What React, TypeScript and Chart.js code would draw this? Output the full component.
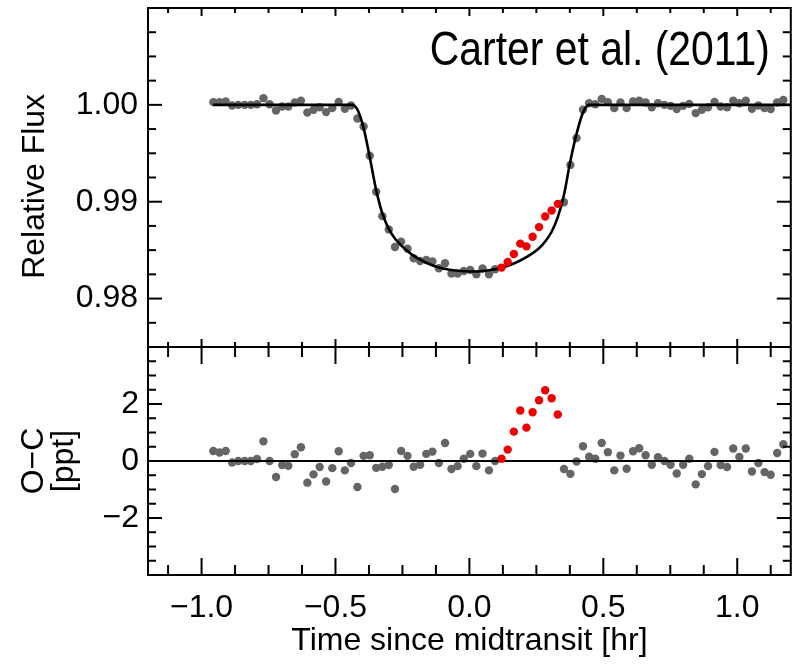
import React, { useEffect, useRef } from 'react';
import { Chart, registerables } from 'chart.js';

Chart.register(...registerables);

// ---- data ----
const TIME_HR = [
  -0.956, -0.933, -0.910, -0.886, -0.863, -0.839, -0.816, -0.793, -0.769, -0.746,
  -0.722, -0.699, -0.676, -0.652, -0.629, -0.605, -0.582, -0.559, -0.535, -0.512,
  -0.488, -0.465, -0.442, -0.418, -0.395, -0.372, -0.348, -0.325, -0.301, -0.278,
  -0.255, -0.231, -0.208, -0.184, -0.161, -0.138, -0.114, -0.091, -0.067, -0.044,
  -0.021, 0.003, 0.026, 0.049, 0.073, 0.096, 0.120, 0.143, 0.166, 0.190,
  0.213, 0.236, 0.260, 0.283, 0.307, 0.330, 0.353, 0.377, 0.400, 0.424,
  0.447, 0.470, 0.494, 0.517, 0.541, 0.564, 0.587, 0.611, 0.634, 0.658,
  0.681, 0.704, 0.728, 0.751, 0.774, 0.798, 0.821, 0.845, 0.868, 0.891,
  0.915, 0.938, 0.962, 0.985, 1.008, 1.032, 1.055, 1.079, 1.102, 1.125,
  1.149, 1.172,
];

const REL_FLUX = [
  1.00028, 1.00028, 1.00034, 0.99993, 1.00000, 1.00000, 1.00000, 1.00007, 1.00069, 1.00007,
  0.99941, 0.99983, 0.99983, 1.00024, 1.00044, 0.99921, 0.99949, 0.99976, 0.99925, 0.99966,
  1.00031, 0.99959, 0.99993, 0.99859, 0.99777, 0.99475, 0.99102, 0.98851, 0.98714, 0.98532,
  0.98587, 0.98515, 0.98416, 0.98388, 0.98398, 0.98382, 0.98313, 0.98364, 0.98258, 0.98258,
  0.98285, 0.98295, 0.98251, 0.98310, 0.98251, 0.98302, 0.98320, 0.98378, 0.98460, 0.98567,
  0.98539, 0.98639, 0.98738, 0.98848, 0.98909, 0.98978, 0.98995, 0.99380, 0.99657, 0.99949,
  1.00017, 1.00007, 1.00062, 1.00028, 0.99966, 1.00024, 0.99966, 1.00034, 1.00044, 1.00024,
  0.99976, 1.00017, 1.00000, 0.99990, 0.99956, 0.99990, 1.00010, 0.99915, 0.99949, 0.99976,
  1.00031, 0.99983, 0.99976, 1.00044, 1.00017, 1.00044, 0.99959, 0.99993, 0.99966, 0.99956,
  1.00024, 1.00051,
];

const OMC_PPT = [
  0.35, 0.30, 0.35, -0.05, 0.00, 0.00, 0.00, 0.07, 0.69, 0.00,
  -0.56, -0.14, -0.17, 0.24, 0.48, -0.76, -0.47, -0.21, -0.72, -0.25,
  0.34, -0.33, -0.07, -0.91, 0.18, 0.20, -0.24, -0.20, -0.14, -0.98,
  0.35, 0.18, -0.20, -0.13, 0.25, 0.33, -0.07, 0.63, -0.28, -0.18,
  0.08, 0.25, -0.18, 0.26, -0.33, 0.00, 0.08, 0.40, 1.03, 1.77,
  1.17, 1.71, 2.13, 2.48, 2.20, 1.63, -0.28, -0.45, -0.02, 0.52,
  0.15, 0.08, 0.63, 0.31, -0.33, 0.19, -0.27, 0.34, 0.45, 0.20,
  -0.13, 0.13, 0.00, -0.13, -0.44, -0.13, 0.08, -0.82, -0.46, -0.18,
  0.32, -0.14, -0.21, 0.44, 0.14, 0.44, -0.37, -0.07, -0.39, -0.48,
  0.28, 0.59,
];

// points highlighted in red (index range into the arrays above)
const ANOMALY_FIRST = 46;
const ANOMALY_LAST = 55;

// model light curve
const MODEL_T = [
  -0.957, -0.44, -0.418, -0.395, -0.372, -0.348, -0.325, -0.301, -0.278, -0.255,
  -0.231, -0.208, -0.161, -0.114, -0.067, -0.021, 0.026, 0.073, 0.120, 0.166,
  0.213, 0.260, 0.283, 0.307, 0.330, 0.353, 0.377, 0.400, 0.424, 0.447, 1.2,
];
const MODEL_F = [
  1.0, 1.0, 0.9995, 0.9976, 0.9946, 0.9912, 0.9888, 0.9872, 0.9862, 0.9855,
  0.9849, 0.9844, 0.9837, 0.9832, 0.98295, 0.98282, 0.9828, 0.98292, 0.98318, 0.98362,
  0.98428, 0.9852, 0.9859, 0.9869, 0.9884, 0.9907, 0.9942, 0.997, 0.9992, 1.0, 1.0,
];

const ZERO_T = [-1.2, 1.2];
const ZERO_V = [0, 0];

const X_TICKS = [-1, -0.5, 0, 0.5, 1];
const FLUX_TICKS = [0.98, 0.99, 1.0];
const OMC_TICKS = [-2, 0, 2];

const SOURCE_LABEL = 'Carter et al. (2011)';
const X_TITLE = 'Time since midtransit [hr]';
const FLUX_TITLE = 'Relative Flux\u00a0\u00a0';
const OMC_TITLE = ['O\u2212C', '[ppt]'];

const FONT = '"Liberation Sans", Arial, Helvetica, sans-serif';
const GREY = '#656565';
const RED = '#ee0000';

const minus = (s: string) => s.replace('-', '\u2212');

const framePlugin = {
  id: 'frameTicks',
  afterDatasetsDraw(chart: any) {
    const { ctx, chartArea: ca, scales } = chart;
    const xs = scales.x;
    const ys = scales.y;
    const ys2 = scales.y2;
    ctx.save();
    ctx.strokeStyle = '#000';
    ctx.lineWidth = 2;
    const line = (x1: number, y1: number, x2: number, y2: number) => {
      ctx.beginPath();
      ctx.moveTo(x1, y1);
      ctx.lineTo(x2, y2);
      ctx.stroke();
    };
    // x ticks (minor every 0.125, major every 0.5)
    for (let k = -9; k <= 9; k++) {
      const px = xs.getPixelForValue(k * 0.125);
      const major = k % 4 === 0;
      const a = major ? 8 : 5;
      line(px, ys.top, px, ys.top + a);
      line(px, ys.bottom, px, ys.bottom - a);
      const b = major ? 17 : 10;
      line(px, ys2.top, px, ys2.top + b);
      line(px, ys2.bottom, px, ys2.bottom - b);
    }
    // top panel y ticks (minor 0.0025, major 0.01)
    for (let k = 1; k < 14; k++) {
      const v = Math.round((0.975 + k * 0.0025) * 10000) / 10000;
      const py = ys.getPixelForValue(v);
      const major = Math.abs(v * 100 - Math.round(v * 100)) < 1e-6;
      const a = major ? 14 : 8;
      line(ca.left, py, ca.left + a, py);
      line(ca.right, py, ca.right - a, py);
    }
    // bottom panel y ticks (minor 0.5, major 2)
    for (let k = -7; k <= 7; k++) {
      const py = ys2.getPixelForValue(k * 0.5);
      const major = k % 4 === 0;
      const a = major ? 14 : 8;
      line(ca.left, py, ca.left + a, py);
      line(ca.right, py, ca.right - a, py);
    }
    // frame and divider
    ctx.strokeRect(ca.left, ca.top, ca.right - ca.left, ca.bottom - ca.top);
    line(ca.left, ys.bottom, ca.right, ys.bottom);

    // source label, drawn in a condensed form of the sans font
    ctx.fillStyle = '#000';
    ctx.font = '48px ' + FONT;
    ctx.textAlign = 'right';
    ctx.textBaseline = 'alphabetic';
    const w = ctx.measureText(SOURCE_LABEL).width;
    const sx = Math.min(1, 340 / w);
    ctx.translate(ca.right - 21, ca.top + 57);
    ctx.scale(sx, 1);
    ctx.fillText(SOURCE_LABEL, 0, 0);
    ctx.restore();
  },
};

const noEdgePad = (s: any) => {
  s.paddingTop = 0;
  s.paddingBottom = 0;
};

export default function App() {
  const ref = useRef<HTMLCanvasElement | null>(null);

  useEffect(() => {
    if (!ref.current) return;
    const greyFlux: any[] = [];
    const redFlux: any[] = [];
    const greyOmc: any[] = [];
    const redOmc: any[] = [];
    TIME_HR.forEach((t, i) => {
      const red = i >= ANOMALY_FIRST && i <= ANOMALY_LAST;
      (red ? redFlux : greyFlux).push({ x: t, y: REL_FLUX[i] });
      (red ? redOmc : greyOmc).push({ x: t, y: OMC_PPT[i] });
    });
    const pointDs = (label: string, data: any[], axis: string, color: string, order: number) => ({
      label,
      data,
      xAxisID: 'x',
      yAxisID: axis,
      showLine: false,
      pointRadius: 4.2,
      pointBackgroundColor: color,
      pointBorderWidth: 0,
      pointBorderColor: color,
      order,
    });
    const tickFont = { family: FONT, size: 32 };

    const chart = new Chart(ref.current, {
      type: 'scatter',
      data: {
        datasets: [
          {
            label: 'model',
            data: MODEL_T.map((t, i) => ({ x: t, y: MODEL_F[i] })),
            xAxisID: 'x',
            yAxisID: 'y',
            showLine: true,
            borderColor: '#000',
            borderWidth: 2.6,
            pointRadius: 0,
            cubicInterpolationMode: 'monotone',
            order: 1,
          },
          pointDs('flux', greyFlux, 'y', GREY, 2),
          pointDs('flux anomaly', redFlux, 'y', RED, 0),
          {
            label: 'zero',
            data: ZERO_T.map((t, i) => ({ x: t, y: ZERO_V[i] })),
            xAxisID: 'x',
            yAxisID: 'y2',
            showLine: true,
            borderColor: '#000',
            borderWidth: 2.2,
            pointRadius: 0,
            order: 1,
          },
          pointDs('O-C', greyOmc, 'y2', GREY, 2),
          pointDs('O-C anomaly', redOmc, 'y2', RED, 0),
        ] as any,
      },
      options: {
        animation: false,
        responsive: true,
        maintainAspectRatio: false,
        events: [],
        layout: { padding: { top: 8, right: 2, left: 0, bottom: 0 } },
        plugins: { legend: { display: false }, tooltip: { enabled: false } },
        scales: {
          x: {
            type: 'linear',
            position: 'bottom',
            min: -1.2,
            max: 1.2,
            grid: { display: false, drawTicks: false },
            border: { display: false },
            afterBuildTicks: (s: any) => {
              s.ticks = X_TICKS.map((v) => ({ value: v }));
            },
            ticks: {
              autoSkip: false,
              maxRotation: 0,
              padding: 14,
              color: '#000',
              font: tickFont,
              callback: (v: any) => minus(Number(v).toFixed(1)),
            },
            title: {
              display: true,
              text: X_TITLE,
              color: '#000',
              font: { family: FONT, size: 32 },
              padding: { top: 0, bottom: 5 },
            },
            afterFit: (s: any) => {
              s.height = 90;
              s.paddingLeft = 0;
              s.paddingRight = 0;
            },
          },
          y: {
            type: 'linear',
            position: 'left',
            stack: 'panels',
            stackWeight: 339,
            weight: 2,
            min: 0.975,
            max: 1.01,
            grid: { display: false, drawTicks: false },
            border: { display: false },
            afterBuildTicks: (s: any) => {
              s.ticks = FLUX_TICKS.map((v) => ({ value: v }));
            },
            ticks: {
              autoSkip: false,
              padding: 10,
              color: '#000',
              font: tickFont,
              callback: (v: any) => Number(v).toFixed(2),
            },
            title: {
              display: true,
              text: FLUX_TITLE,
              color: '#000',
              font: { family: FONT, size: 32, lineHeight: 1 },
              padding: { top: 19, bottom: 0 },
            },
            afterFit: (s: any) => {
              s.width = 148;
              noEdgePad(s);
            },
          },
          y2: {
            type: 'linear',
            position: 'left',
            stack: 'panels',
            stackWeight: 228,
            weight: 1,
            min: -4,
            max: 4,
            grid: { display: false, drawTicks: false },
            border: { display: false },
            afterBuildTicks: (s: any) => {
              s.ticks = OMC_TICKS.map((v) => ({ value: v }));
            },
            ticks: {
              autoSkip: false,
              padding: 9,
              color: '#000',
              font: tickFont,
              callback: (v: any) => minus(String(Number(v))),
            },
            title: {
              display: true,
              text: OMC_TITLE,
              color: '#000',
              font: { family: FONT, size: 32, lineHeight: 0.94 },
              padding: { top: 19, bottom: 0 },
            },
            afterFit: (s: any) => {
              s.width = 148;
              noEdgePad(s);
            },
          },
        },
      } as any,
      plugins: [framePlugin],
    });
    return () => chart.destroy();
  }, []);

  return (
    <div style={{ position: 'fixed', left: 0, top: 0, width: 795, height: 665, background: '#fff' }}>
      <canvas ref={ref} />
    </div>
  );
}
